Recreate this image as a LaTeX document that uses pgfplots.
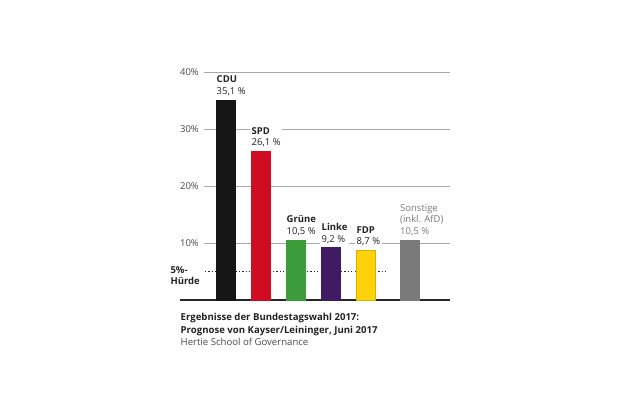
\documentclass[border=0pt]{standalone}
\usepackage{pgfplots}
\pgfplotsset{compat=1.18}
\usepackage{fontspec}
\setmainfont{Open Sans}
\definecolor{cdu}{HTML}{161616}
\definecolor{spd}{HTML}{D00C22}
\definecolor{gruene}{HTML}{3C9C3A}
\definecolor{linke}{HTML}{3F1B63}
\definecolor{fdp}{HTML}{FDD20A}
\definecolor{fdpline}{HTML}{D9B200}
\definecolor{sonst}{HTML}{7A7A7A}
\definecolor{gridc}{HTML}{A8A8A8}
\definecolor{txt}{HTML}{222222}
\definecolor{ticktxt}{HTML}{4A4A4A}
\newcommand{\lblfont}{\fontsize{9.5bp}{11.8bp}\selectfont}
\begin{document}
\begin{tikzpicture}
\fill[white] (0,0) rectangle (630bp,412bp);
\path[use as bounding box] (0,0) rectangle (630bp,412bp);
\begin{axis}[
  at={(204bp,112bp)}, anchor=south west,
  scale only axis, width=246bp, height=228bp,
  xmin=-0.6286, xmax=6.4, ymin=0, ymax=40,
  axis line style={draw=none},
  tick style={draw=none},
  xtick=\empty,
  ytick={10,20,30,40},
  yticklabels={10\%,20\%,30\%,40\%},
  yticklabel style={inner sep=0pt, xshift=-5bp, text=ticktxt, font=\lblfont},
  ymajorgrids,
  grid style={gridc, line width=0.9bp},
  clip=false,
  ybar, bar width=19bp, bar shift=0pt,
  every node near coord/.style={anchor=south west, xshift=-11bp, yshift=2.5bp, fill=white, inner sep=1.5bp, align=left, text=txt, font=\lblfont},
]
\draw[line width=1.2bp, black!85] ([xshift=-24bp]rel axis cs:0,0) -- (rel axis cs:1,0);
\addplot[sharp plot, draw=black!85, fill=none, line width=1.2bp, dash pattern=on 1.2bp off 2.2bp, mark=none] coordinates {(-0.6,5) (4.6,5)};
\node[anchor=north east, align=left, inner sep=0pt, text=txt, font=\fontsize{9.5bp}{11.5bp}\selectfont\bfseries] at (axis cs:-0.6,5) [xshift=-5bp, yshift=5.5bp] {5\%-\\Hürde};
\addplot[fill=cdu, draw=cdu, nodes near coords={\textbf{CDU}\\35,1 \%}] coordinates {(0,35.1)};
\addplot[fill=spd, draw=spd, nodes near coords={\textbf{SPD}\\26,1 \%}] coordinates {(1,26.1)};
\addplot[fill=gruene, draw=gruene, nodes near coords={\textbf{Grüne}\\10,5 \%}] coordinates {(2,10.5)};
\addplot[fill=linke, draw=linke, nodes near coords={\textbf{Linke}\\9,2 \%}] coordinates {(3,9.2)};
\addplot[fill=fdp, draw=fdpline, nodes near coords={\textbf{FDP}\\8,7 \%}] coordinates {(4,8.7)};
\addplot[fill=sonst, draw=sonst, nodes near coords={Sonstige\\(inkl. AfD)\\10,5 \%}, every node near coord/.append style={text=sonst}] coordinates {(5.243,10.5)};
\end{axis}
\node[anchor=north west, align=left, inner sep=0pt, text=txt, font=\fontsize{9.6bp}{12.4bp}\selectfont] at (180.5bp,98.5bp)
  {\textbf{Ergebnisse der Bundestagswahl 2017:}\\\textbf{Prognose von Kayser/Leininger, Juni 2017}\\{\color{ticktxt}Hertie School of Governance}};
\end{tikzpicture}
\end{document}
